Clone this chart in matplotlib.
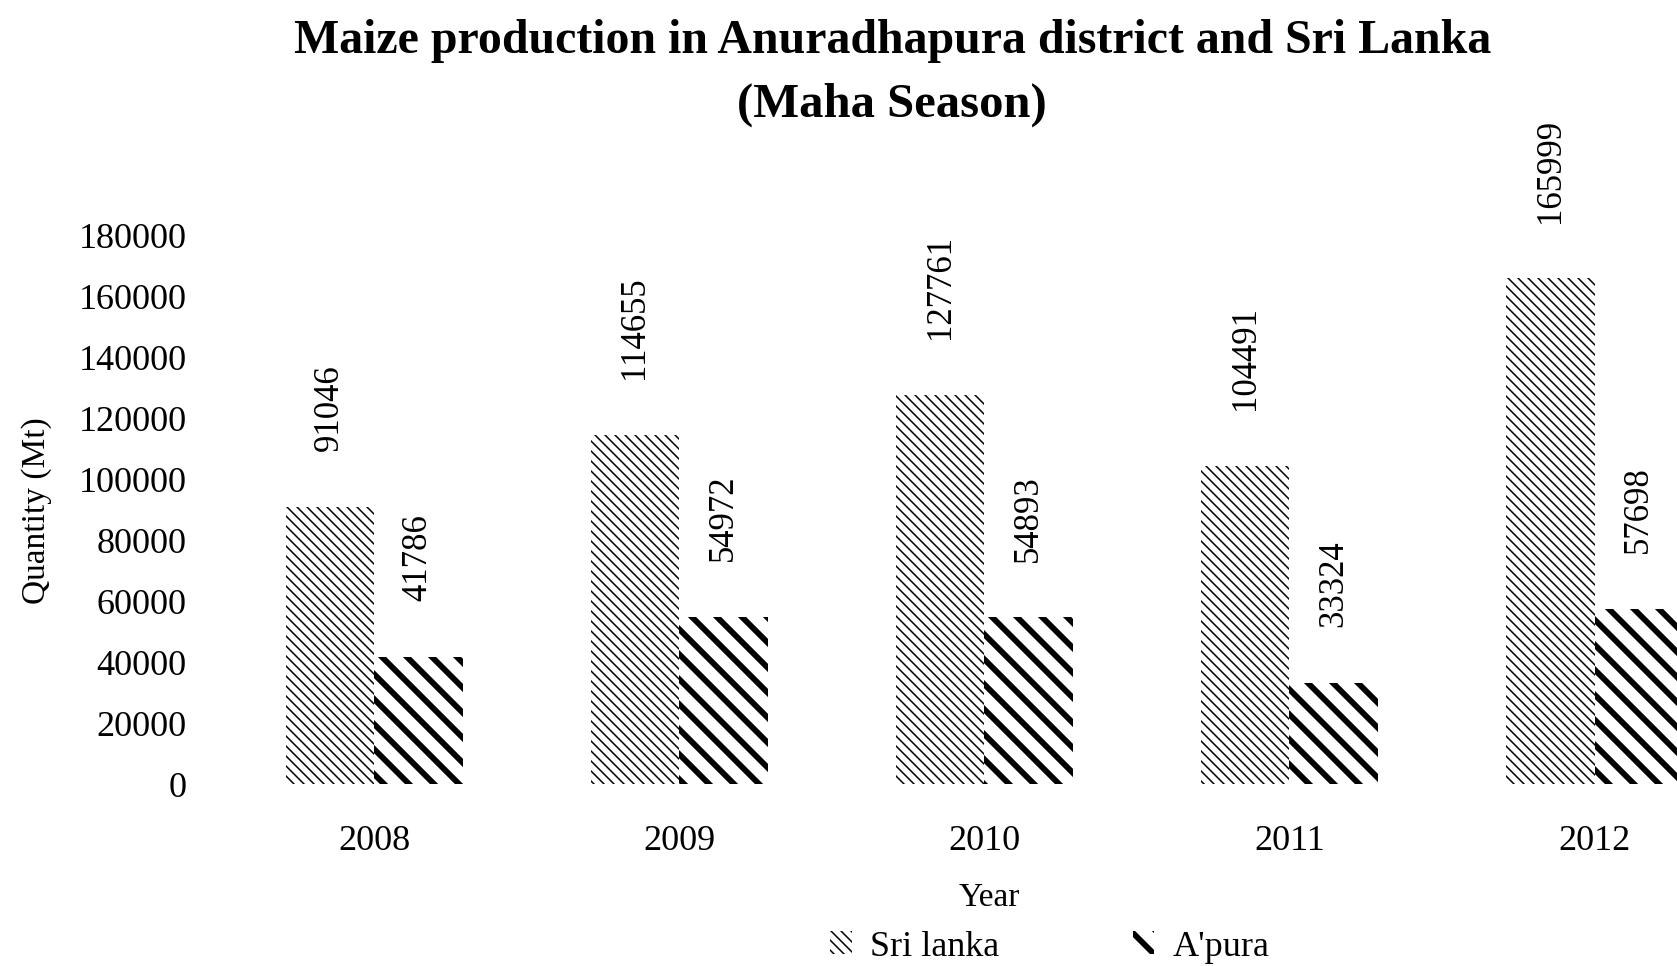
import numpy as np
import matplotlib.pyplot as plt
from matplotlib.backend_bases import GraphicsContextBase

plt.rcParams.update({"font.family": "Liberation Serif", "font.size": 24})

# coarser hatch spacing: each hatch char = 2 lines per unit instead of 6
_orig_hatch_path = GraphicsContextBase.get_hatch_path
GraphicsContextBase.get_hatch_path = lambda self, density=6.0: _orig_hatch_path(self, 2.0)

years = ["2008", "2009", "2010", "2011", "2012"]
sri_lanka = [91046, 114655, 127761, 104491, 165999]
apura = [41786, 54972, 54893, 33324, 57698]

fig = plt.figure(figsize=(16.77, 9.66), dpi=100)
ax = fig.add_axes([220 / 1677, 0.188, 1 - 220 / 1677, 0.568])

x = np.arange(len(years))
w = 0.29

b1 = ax.bar(x - w / 2, sri_lanka, w, color="white", edgecolor="black",
            linewidth=0, hatch="\\" * 10, label="Sri lanka")
b2 = ax.bar(x + w / 2, apura, w, color="white", edgecolor="black",
            linewidth=0, hatch="\\" * 4, label="A'pura")
for p in b1:
    p.set_hatch_linewidth(1.1)
for p in b2:
    p.set_hatch_linewidth(4.2)

for bars, vals in [(b1, sri_lanka), (b2, apura)]:
    for p, v in zip(bars, vals):
        ax.annotate(str(v), (p.get_x() + p.get_width() / 2, v),
                    xytext=(0, 40), textcoords="offset points",
                    rotation=90, ha="center", va="bottom", fontsize=25,
                    annotation_clip=False)

ax.set_xlim(-0.505, 4.27)
ax.set_ylim(0, 180000)
ax.set_yticks(range(0, 180001, 20000))
ax.set_xticks(x)
ax.set_xticklabels(years)
ax.tick_params(axis="both", length=0, labelsize=26)
ax.tick_params(axis="x", pad=29)
ax.tick_params(axis="y", pad=24)
for s in ax.spines.values():
    s.set_visible(False)

fig.text(0.532, 0.958, "Maize production in Anuradhapura district and Sri Lanka",
         ha="center", va="center", fontsize=34.5, fontweight="bold")
fig.text(0.532, 0.892, "(Maha Season)", ha="center", va="center",
         fontsize=35, fontweight="bold")
fig.text(37 / 1677, 1 - 511 / 966, "Quantity (Mt)", rotation=90,
         ha="center", va="center", fontsize=24)
fig.text(989 / 1677, 1 - 898 / 966, "Year", ha="center", va="center", fontsize=24)

leg = fig.legend(handles=[b1, b2], loc="center", bbox_to_anchor=(0.626, 1 - 947 / 966),
                 ncol=2, frameon=False, handlelength=0.6, handleheight=0.6,
                 handletextpad=0.5, columnspacing=3.7, fontsize=26)
leg.legend_handles[0].set_hatch_linewidth(1.1)
leg.legend_handles[1].set_hatch_linewidth(4.2)

fig.savefig("out.png", dpi=100)
